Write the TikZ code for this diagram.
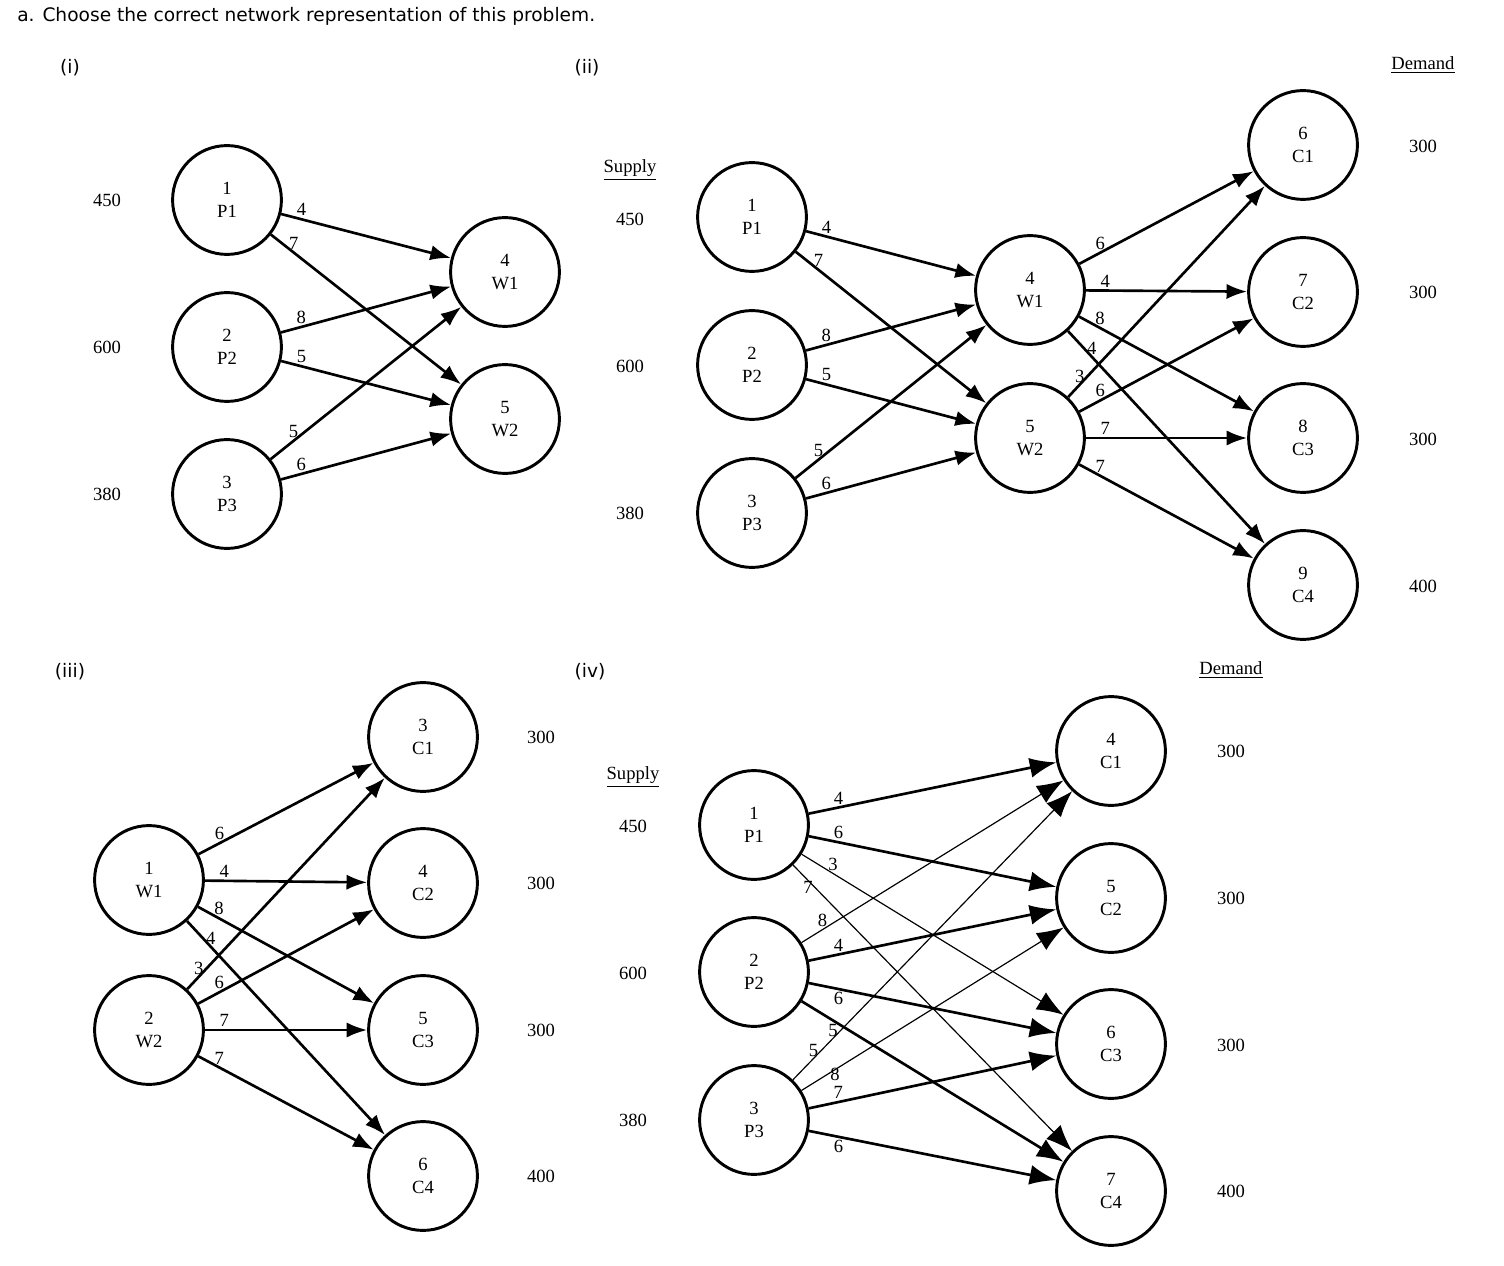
\documentclass[tikz,border=0pt]{standalone}
\usepackage{fontspec}
\setmainfont{Liberation Serif}
\newfontfamily\uisans{DejaVu Sans}
\usetikzlibrary{arrows.meta}
\begin{document}
\begin{tikzpicture}[x=0.017cm,y=-0.017cm,
  netnode/.style={circle,draw,line width=0.5mm,minimum size=1.85cm,align=center,font=\small,inner sep=0pt},
  flow/.style={-{Latex[length=3.5mm,width=2.6mm]},line width=0.45mm},
  bigflow/.style={-{Latex[length=4.5mm,width=3.4mm]},line width=0.45mm},
  thinflow/.style={-{Latex[length=4.5mm,width=3.4mm]},line width=0.2mm},
  cost/.style={font=\small,pos=0.12,above,inner sep=1pt},
  lab/.style={font=\small}]

	\useasboundingbox (0,0) rectangle (1504,1266);
	\node[anchor=west,font=\uisans\small] (title) at (10,16) {a. Choose the correct network representation of this problem.};

	%(i)
	\node[font=\uisans\small] (ti) at (70,68) {(i)};
	\node[netnode] (ap1) at (227,200) {1\\P1};
	\node[netnode] (ap2) at (227,347) {2\\P2};
	\node[netnode] (ap3) at (227,494) {3\\P3};
	\node[netnode] (aw1) at (505,272) {4\\W1};
	\node[netnode] (aw2) at (505,419) {5\\W2};
	\node[lab] (as1) at (107,200) {450};
	\node[lab] (as2) at (107,347) {600};
	\node[lab] (as3) at (107,494) {380};
	\draw[flow] (ap1) -- (aw1) node[cost] {4};
	\draw[flow] (ap1) -- (aw2) node[cost] {7};
	\draw[flow] (ap2) -- (aw1) node[cost] {8};
	\draw[flow] (ap2) -- (aw2) node[cost] {5};
	\draw[flow] (ap3) -- (aw1) node[cost] {5};
	\draw[flow] (ap3) -- (aw2) node[cost] {6};

	%(ii)
	\node[font=\uisans\small] (tii) at (587,68) {(ii)};
	\node[netnode] (bp1) at (752,217) {1\\P1};
	\node[netnode] (bp2) at (752,365) {2\\P2};
	\node[netnode] (bp3) at (752,513) {3\\P3};
	\node[netnode] (bw1) at (1030,290) {4\\W1};
	\node[netnode] (bw2) at (1030,438) {5\\W2};
	\node[netnode] (bc1) at (1303,145) {6\\C1};
	\node[netnode] (bc2) at (1303,292) {7\\C2};
	\node[netnode] (bc3) at (1303,438) {8\\C3};
	\node[netnode] (bc4) at (1303,585) {9\\C4};
	\node[lab] (bsup) at (630,170) {\underline{Supply}};
	\node[lab] (bs1) at (630,219) {450};
	\node[lab] (bs2) at (630,366) {600};
	\node[lab] (bs3) at (630,513) {380};
	\node[lab] (bdem) at (1423,65) {\underline{Demand}};
	\node[lab] (bd1) at (1423,146) {300};
	\node[lab] (bd2) at (1423,292) {300};
	\node[lab] (bd3) at (1423,439) {300};
	\node[lab] (bd4) at (1423,586) {400};
	\draw[flow] (bp1) -- (bw1) node[cost] {4};
	\draw[flow] (bp1) -- (bw2) node[cost] {7};
	\draw[flow] (bp2) -- (bw1) node[cost] {8};
	\draw[flow] (bp2) -- (bw2) node[cost] {5};
	\draw[flow] (bp3) -- (bw1) node[cost] {5};
	\draw[flow] (bp3) -- (bw2) node[cost] {6};
	\draw[flow] (bw1) -- (bc1) node[cost] {6};
	\draw[flow] (bw1) -- (bc2) node[cost] {4};
	\draw[flow] (bw1) -- (bc3) node[cost] {8};
	\draw[flow] (bw1) -- (bc4) node[cost,pos=0.08,right] {4};
	\draw[flow] (bw2) -- (bc1) node[cost,pos=0.1,left] {3};
	\draw[flow] (bw2) -- (bc2) node[cost] {6};
	\draw[flow] (bw2) -- (bc3) node[cost] {7};
	\draw[flow] (bw2) -- (bc4) node[cost] {7};

	%(iii)
	\node[font=\uisans\small] (tiii) at (70,672) {(iii)};
	\node[netnode] (cw1) at (149,880) {1\\W1};
	\node[netnode] (cw2) at (149,1030) {2\\W2};
	\node[netnode] (cc1) at (423,737) {3\\C1};
	\node[netnode] (cc2) at (423,883) {4\\C2};
	\node[netnode] (cc3) at (423,1030) {5\\C3};
	\node[netnode] (cc4) at (423,1176) {6\\C4};
	\node[lab] (cd1) at (541,737) {300};
	\node[lab] (cd2) at (541,883) {300};
	\node[lab] (cd3) at (541,1030) {300};
	\node[lab] (cd4) at (541,1176) {400};
	\draw[flow] (cw1) -- (cc1) node[cost] {6};
	\draw[flow] (cw1) -- (cc2) node[cost] {4};
	\draw[flow] (cw1) -- (cc3) node[cost] {8};
	\draw[flow] (cw1) -- (cc4) node[cost,pos=0.08,right] {4};
	\draw[flow] (cw2) -- (cc1) node[cost,pos=0.1,left] {3};
	\draw[flow] (cw2) -- (cc2) node[cost] {6};
	\draw[flow] (cw2) -- (cc3) node[cost] {7};
	\draw[flow] (cw2) -- (cc4) node[cost] {7};

	%(iv)
	\node[font=\uisans\small] (tiv) at (590,672) {(iv)};
	\node[netnode] (dp1) at (754,825) {1\\P1};
	\node[netnode] (dp2) at (754,972) {2\\P2};
	\node[netnode] (dp3) at (754,1120) {3\\P3};
	\node[netnode] (dc1) at (1111,751) {4\\C1};
	\node[netnode] (dc2) at (1111,898) {5\\C2};
	\node[netnode] (dc3) at (1111,1044) {6\\C3};
	\node[netnode] (dc4) at (1111,1191) {7\\C4};
	\node[lab] (dsup) at (633,777) {\underline{Supply}};
	\node[lab] (ds1) at (633,826) {450};
	\node[lab] (ds2) at (633,973) {600};
	\node[lab] (ds3) at (633,1120) {380};
	\node[lab] (ddem) at (1231,670) {\underline{Demand}};
	\node[lab] (dd1) at (1231,751) {300};
	\node[lab] (dd2) at (1231,898) {300};
	\node[lab] (dd3) at (1231,1045) {300};
	\node[lab] (dd4) at (1231,1191) {400};
	\draw[bigflow] (dp1) -- (dc1) node[cost] {4};
	\draw[bigflow] (dp1) -- (dc2) node[cost] {6};
	\draw[thinflow] (dp1) -- (dc3) node[cost] {3};
	\draw[thinflow] (dp1) -- (dc4) node[cost,pos=0.08,left] {7};
	\draw[thinflow] (dp2) -- (dc1) node[cost,pos=0.08] {8};
	\draw[bigflow] (dp2) -- (dc2) node[cost] {4};
	\draw[bigflow] (dp2) -- (dc3) node[cost,below] {6};
	\draw[bigflow] (dp2) -- (dc4) node[cost,below] {5};
	\draw[thinflow] (dp3) -- (dc1) node[cost,pos=0.1,left] {5};
	\draw[thinflow] (dp3) -- (dc2) node[cost,pos=0.1,right] {8};
	\draw[bigflow] (dp3) -- (dc3) node[cost] {7};
	\draw[bigflow] (dp3) -- (dc4) node[cost,below] {6};

\end{tikzpicture}
\end{document}
